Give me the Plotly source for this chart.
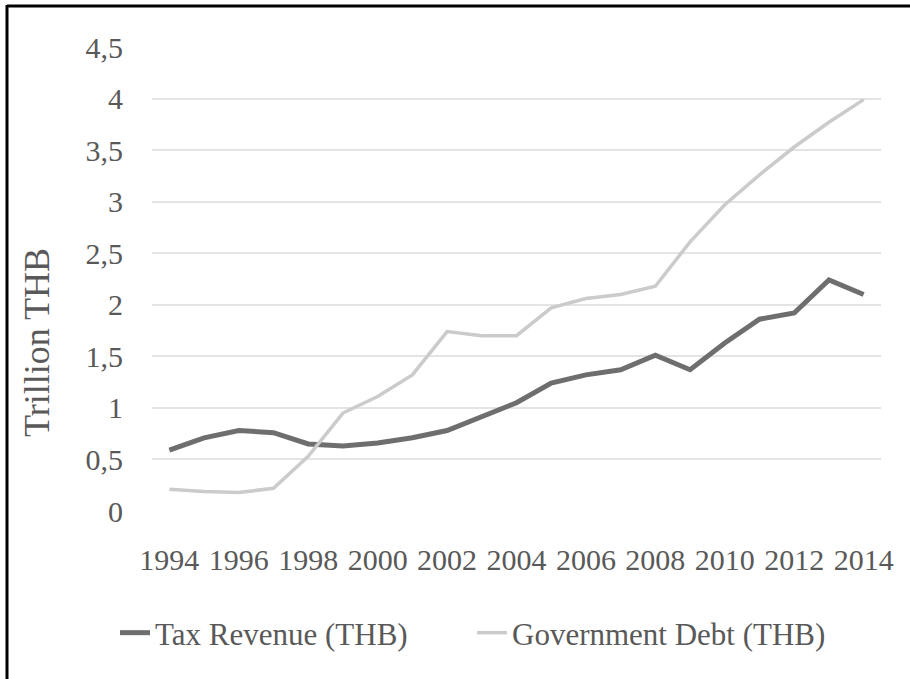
import plotly.graph_objects as go

# Annual series, trillion THB
years = [str(y) for y in range(1994, 2015)]
tax_revenue = [0.59, 0.71, 0.78, 0.76, 0.65, 0.63, 0.66, 0.71, 0.78, 0.92,
               1.05, 1.24, 1.32, 1.37, 1.51, 1.37, 1.63, 1.86, 1.92, 2.24, 2.10]
government_debt = [0.21, 0.19, 0.18, 0.22, 0.53, 0.95, 1.11, 1.32, 1.74, 1.70,
                   1.70, 1.97, 2.06, 2.10, 2.18, 2.61, 2.97, 3.26, 3.53, 3.77, 3.99]
y_ticks = [0, 0.5, 1, 1.5, 2, 2.5, 3, 3.5, 4, 4.5]
y_tick_text = ["0", "0,5", "1", "1,5", "2", "2,5", "3", "3,5", "4", "4,5"]
x_tick_years = [str(y) for y in range(1994, 2015, 2)]

W, H = 910, 679
L, R, T, B = 152, 29, 47, 168
PW, PH = W - L - R, H - T - B

def px_x(px):
    return (px - L) / PW

def px_y(py):
    return (H - B - py) / PH

FONT = "Liberation Serif, Times New Roman, serif"
TEXT = "#595959"

fig = go.Figure()
fig.add_trace(go.Scatter(
    x=years, y=tax_revenue, mode="lines", name="Tax Revenue (THB)",
    line=dict(color="#6e6e6e", width=5),
))
fig.add_trace(go.Scatter(
    x=years, y=government_debt, mode="lines", name="Government Debt (THB)",
    line=dict(color="#cbcbcb", width=3.5),
))

fig.update_layout(
    width=W, height=H,
    margin=dict(l=L, r=R, t=T, b=B),
    paper_bgcolor="white", plot_bgcolor="white",
    font=dict(family=FONT, size=30, color=TEXT),
    showlegend=True,
    legend=dict(
        orientation="h", x=px_x(115), y=px_y(633),
        xanchor="left", yanchor="middle",
        font=dict(family=FONT, size=31, color=TEXT),
        entrywidth=312, entrywidthmode="pixels",
        bgcolor="rgba(0,0,0,0)",
    ),
    xaxis=dict(
        type="category", range=[-0.5, len(years) - 0.5],
        tickmode="array", tickvals=x_tick_years, ticktext=x_tick_years,
        showgrid=False, showline=False, zeroline=False,
        ticks="outside", ticklen=22, tickcolor="rgba(0,0,0,0)",
        tickfont=dict(family=FONT, size=30, color=TEXT),
    ),
    yaxis=dict(
        range=[0, 4.5], tickmode="array", tickvals=y_ticks, ticktext=y_tick_text,
        showgrid=True, gridcolor="#e4e4e4", gridwidth=2,
        zeroline=False, showline=False,
        ticks="outside", ticklen=22, tickcolor="rgba(0,0,0,0)",
        tickfont=dict(family=FONT, size=30, color=TEXT),
    ),
    annotations=[dict(
        text="Trillion THB", textangle=-90,
        x=px_x(37), y=px_y(343), xref="paper", yref="paper",
        xanchor="center", yanchor="middle", showarrow=False,
        font=dict(family=FONT, size=36, color=TEXT),
    )],
    shapes=[
        # frame edges along the top and left of the chart
        dict(type="line", xref="paper", yref="paper",
             x0=px_x(7), x1=px_x(W + 5), y0=px_y(6), y1=px_y(6),
             line=dict(color="black", width=3)),
        dict(type="line", xref="paper", yref="paper",
             x0=px_x(7), x1=px_x(7), y0=px_y(5), y1=px_y(H + 5),
             line=dict(color="black", width=3)),
    ],
)

fig.write_html("out.html")
